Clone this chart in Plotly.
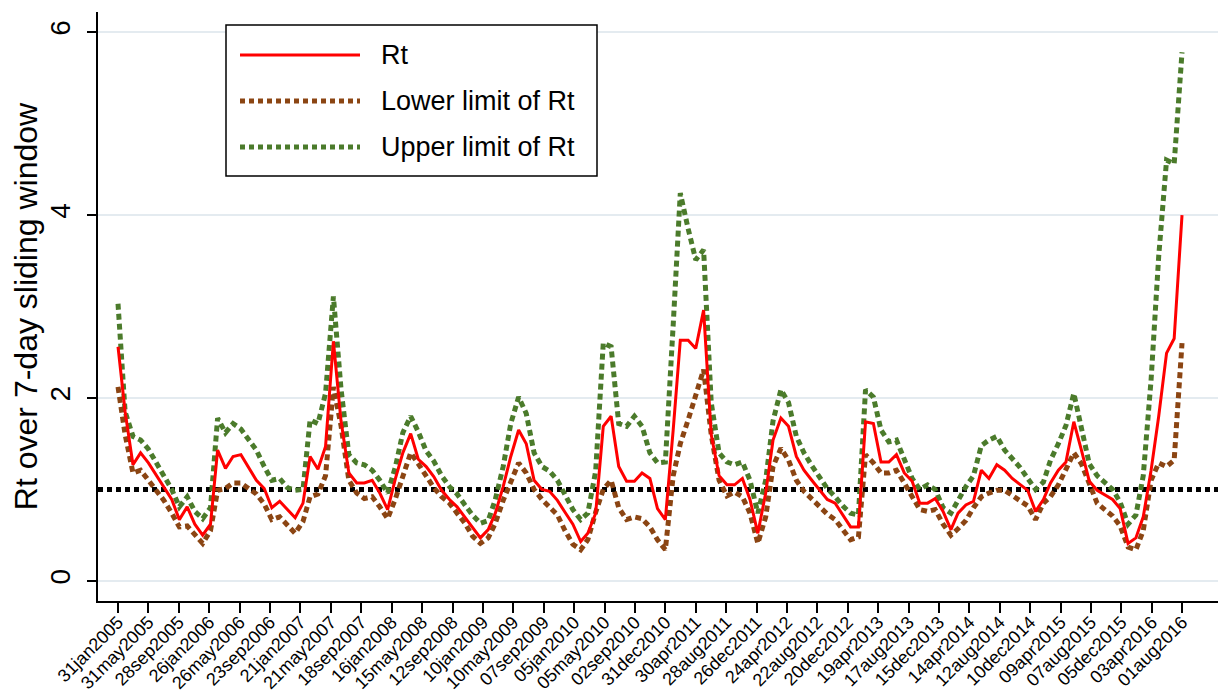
import pandas as pd
import plotly.graph_objects as go

# ---------------- data (monthly, end of month, Jan 2005 - Jul 2016) ----------------
start_month = "2005-01-31"

rt = [2.56, 1.85, 1.27, 1.40, 1.29, 1.16, 1.02, 0.89, 0.67, 0.81,
      0.62, 0.50, 0.62, 1.43, 1.23, 1.36, 1.38, 1.24, 1.10, 1.01,
      0.80, 0.87, 0.78, 0.69, 0.85, 1.36, 1.22, 1.47, 2.62, 1.75,
      1.18, 1.07, 1.07, 1.10, 0.96, 0.78, 1.12, 1.40, 1.61, 1.33,
      1.25, 1.14, 0.99, 0.89, 0.81, 0.70, 0.59, 0.47, 0.56, 0.74,
      1.03, 1.36, 1.65, 1.50, 1.10, 1.00, 0.98, 0.88, 0.75, 0.62,
      0.43, 0.52, 0.74, 1.69, 1.80, 1.25, 1.09, 1.09, 1.18, 1.12,
      0.79, 0.67, 1.65, 2.63, 2.63, 2.54, 2.96, 1.60, 1.15, 1.05,
      1.05, 1.12, 0.89, 0.52, 0.96, 1.54, 1.78, 1.69, 1.36, 1.21,
      1.10, 0.99, 0.89, 0.85, 0.72, 0.59, 0.59, 1.74, 1.72, 1.30,
      1.30, 1.38, 1.18, 1.09, 0.85, 0.85, 0.90, 0.76, 0.56, 0.74,
      0.83, 0.87, 1.21, 1.12, 1.27, 1.21, 1.12, 1.05, 0.99, 0.76,
      0.89, 1.07, 1.21, 1.30, 1.74, 1.43, 1.09, 0.99, 0.94, 0.89,
      0.79, 0.41, 0.47, 0.70, 1.21, 1.80, 2.49, 2.65, 4.00]

rt_lower = [2.12, 1.60, 1.18, 1.21, 1.10, 0.99, 0.88, 0.74, 0.59, 0.60,
            0.50, 0.41, 0.55, 0.99, 1.01, 1.07, 1.07, 1.01, 0.95, 0.84,
            0.67, 0.70, 0.62, 0.52, 0.65, 0.92, 0.95, 1.15, 2.12, 1.70,
            1.10, 0.96, 0.90, 0.92, 0.81, 0.68, 0.90, 1.15, 1.40, 1.28,
            1.15, 1.02, 0.92, 0.85, 0.74, 0.63, 0.49, 0.41, 0.47, 0.63,
            0.88, 1.10, 1.29, 1.18, 1.00, 0.89, 0.80, 0.72, 0.55, 0.40,
            0.34, 0.45, 0.75, 1.00, 1.10, 0.80, 0.67, 0.70, 0.68, 0.59,
            0.45, 0.34, 1.15, 1.50, 1.76, 2.05, 2.31, 1.60, 1.10, 0.93,
            0.97, 0.92, 0.74, 0.41, 0.70, 1.25, 1.45, 1.32, 1.10, 0.98,
            0.90, 0.82, 0.73, 0.67, 0.56, 0.45, 0.48, 1.38, 1.29, 1.18,
            1.18, 1.21, 1.07, 0.92, 0.78, 0.76, 0.78, 0.62, 0.50, 0.57,
            0.66, 0.80, 0.92, 0.96, 0.99, 0.99, 0.93, 0.88, 0.82, 0.67,
            0.85, 0.92, 1.05, 1.22, 1.40, 1.28, 1.05, 0.85, 0.78, 0.71,
            0.60, 0.37, 0.34, 0.55, 1.10, 1.29, 1.25, 1.32, 2.60]

rt_upper = [3.03, 1.85, 1.58, 1.54, 1.44, 1.30, 1.15, 1.00, 0.81, 0.92,
            0.76, 0.68, 0.80, 1.78, 1.62, 1.72, 1.66, 1.55, 1.43, 1.25,
            1.10, 1.12, 1.02, 0.99, 1.00, 1.76, 1.72, 2.05, 3.11, 2.10,
            1.38, 1.29, 1.27, 1.21, 1.10, 0.96, 1.25, 1.62, 1.80, 1.63,
            1.42, 1.31, 1.15, 1.03, 0.95, 0.83, 0.72, 0.63, 0.66, 0.89,
            1.25, 1.72, 2.01, 1.83, 1.40, 1.25, 1.20, 1.10, 0.95, 0.78,
            0.67, 0.74, 1.20, 2.60, 2.56, 1.72, 1.69, 1.80, 1.69, 1.40,
            1.29, 1.30, 2.80, 4.24, 3.85, 3.51, 3.62, 1.95, 1.40, 1.30,
            1.27, 1.30, 1.10, 0.74, 1.10, 1.75, 2.09, 1.95, 1.58, 1.40,
            1.26, 1.12, 1.01, 0.92, 0.82, 0.74, 0.72, 2.09, 2.01, 1.65,
            1.52, 1.54, 1.32, 1.12, 1.00, 1.05, 1.00, 0.80, 0.74, 0.88,
            1.03, 1.15, 1.48, 1.54, 1.58, 1.43, 1.34, 1.24, 1.12, 1.00,
            1.08, 1.32, 1.50, 1.70, 2.05, 1.68, 1.28, 1.15, 1.08, 1.00,
            0.86, 0.62, 0.72, 1.15, 2.20, 3.55, 4.60, 4.56, 5.78]

threshold = 1.0

tick_labels = ["31jan2005", "31may2005", "28sep2005", "26jan2006", "26may2006",
               "23sep2006", "21jan2007", "21may2007", "18sep2007", "16jan2008",
               "15may2008", "12sep2008", "10jan2009", "10may2009", "07sep2009",
               "05jan2010", "05may2010", "02sep2010", "31dec2010", "30apr2011",
               "28aug2011", "26dec2011", "24apr2012", "22aug2012", "20dec2012",
               "19apr2013", "17aug2013", "15dec2013", "14apr2014", "12aug2014",
               "10dec2014", "09apr2015", "07aug2015", "05dec2015", "03apr2016",
               "01aug2016"]

y_ticks = [0, 2, 4, 6]

series_names = ["Rt", "Lower limit of Rt", "Upper limit of Rt"]

# ---------------- build ----------------
try:
    dates = pd.date_range(start_month, periods=len(rt), freq="ME")
except Exception:
    dates = pd.date_range(start_month, periods=len(rt), freq="M")

tick_vals = [pd.to_datetime(t, format="%d%b%Y") for t in tick_labels]

RED = "#ff0000"
BROWN = "#8b4513"
GREEN = "#4b7b2b"
FONT = "Liberation Sans, Arial, sans-serif"

fig = go.Figure()

fig.add_hline(y=threshold, line=dict(color="black", width=5, dash="5px,4px"), layer="below")

fig.add_trace(go.Scatter(x=dates, y=rt_upper, mode="lines", name=series_names[2],
                         line=dict(color=GREEN, width=5, dash="6px,4px")))
fig.add_trace(go.Scatter(x=dates, y=rt_lower, mode="lines", name=series_names[1],
                         line=dict(color=BROWN, width=5, dash="6px,4px")))
fig.add_trace(go.Scatter(x=dates, y=rt, mode="lines", name=series_names[0],
                         line=dict(color=RED, width=3)))

# The page body adds an 8px offset; the figure is sized so the plot lands where the original is.
OFF = 8
W, H = 1228 - OFF, 695 - OFF
ML, MR, MT, MB = 98 - OFF, 10, 12 - OFF, 94
PW, PH = W - ML - MR, H - MT - MB


def px(xp):
    return (xp - OFF - ML) / PW


def py(yp):
    return (H - MB - (yp - OFF)) / PH


# manual legend (long line samples as in the original)
fig.add_shape(type="rect", xref="paper", yref="paper",
              x0=px(226), x1=px(597), y0=py(176), y1=py(25),
              line=dict(color="black", width=1.5), fillcolor="white", layer="above")
legend_rows = [(55, RED, 3, "solid"), (101, BROWN, 5, "5px,4px"), (147, GREEN, 5, "5px,4px")]
for (yy, col, wd, ds), name in zip(legend_rows, series_names):
    fig.add_shape(type="line", xref="paper", yref="paper",
                  x0=px(240), x1=px(360), y0=py(yy), y1=py(yy),
                  line=dict(color=col, width=wd, dash=ds), layer="above")
    fig.add_annotation(xref="paper", yref="paper", x=px(380), y=py(yy),
                       xanchor="left", yanchor="middle", showarrow=False,
                       borderpad=0,
                       text=name, font=dict(family=FONT, size=27, color="black"))

fig.update_layout(
    width=W, height=H,
    margin=dict(l=ML, r=MR, t=MT, b=MB, autoexpand=False),
    paper_bgcolor="white", plot_bgcolor="white",
    showlegend=False,
    font=dict(family=FONT, color="black"),
)

fig.update_xaxes(
    automargin=False,
    range=[pd.Timestamp("2004-11-13"), pd.Timestamp("2016-12-20")],
    tickvals=tick_vals, ticktext=tick_labels, tickangle=-45,
    tickfont=dict(family=FONT, size=18, color="black"),
    ticks="outside", ticklen=10, tickwidth=1.5, tickcolor="black",
    ticklabelstandoff=-8,
    showline=True, linecolor="black", linewidth=1.5,
    showgrid=False, zeroline=False,
)

fig.update_yaxes(
    automargin=False,
    range=[-0.22, 6.22],
    tickvals=y_ticks, ticktext=[str(v) for v in y_ticks], tickangle=-90,
    tickfont=dict(family=FONT, size=28, color="black"),
    ticks="outside", ticklen=9, tickwidth=1.5, tickcolor="black",
    ticklabelstandoff=6,
    showline=True, linecolor="black", linewidth=1.5,
    showgrid=True, gridcolor="#e4ebf0", gridwidth=1.5,
    zeroline=False,
    title=dict(text="Rt over 7-day sliding window",
               font=dict(family=FONT, size=32, color="black"), standoff=2),
)

fig.write_html("out.html")
